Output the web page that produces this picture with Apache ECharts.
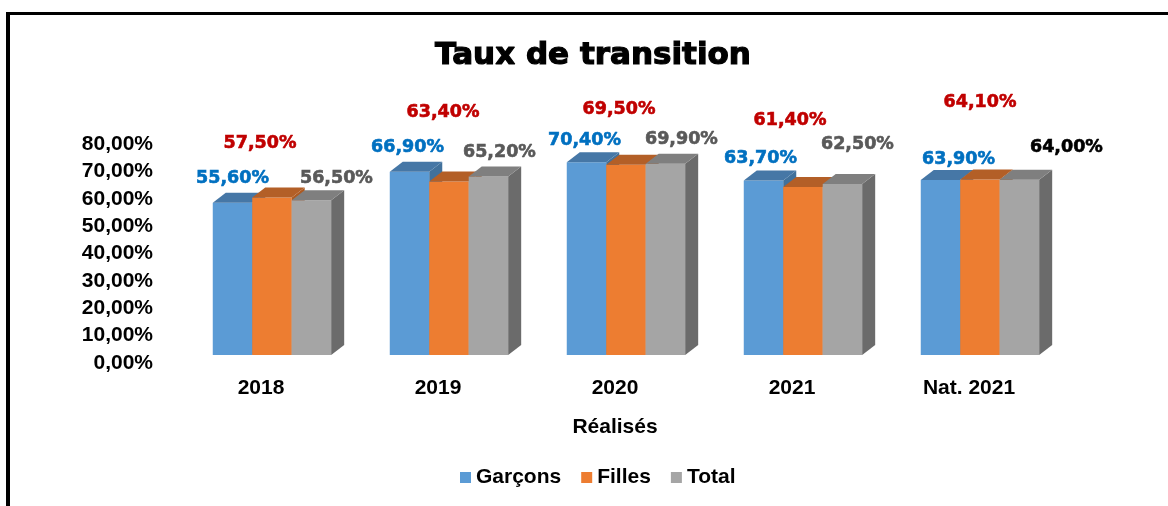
<!DOCTYPE html>
<html>
<head>
<meta charset="utf-8">
<script src="https://cdn.jsdelivr.net/npm/echarts@6/dist/echarts.min.js"></script>
<style>
  html, body { margin: 0; padding: 0; background: #fff; }
  #chart { width: 1168px; height: 506px; }
</style>
</head>
<body>
<div id="chart"></div>
<script>
// données du graphique
const annees = ["2018", "2019", "2020", "2021", "Nat. 2021"];
const garcons = [55.6, 66.9, 70.4, 63.7, 63.9];
const filles = [57.5, 63.4, 69.5, 61.4, 64.1];
const total = [56.5, 65.2, 69.9, 62.5, 64.0];
const axeY = [0, 10, 20, 30, 40, 50, 60, 70, 80];

// couleurs des faces (avant, côté, dessus) et des étiquettes
const faces = [
  { front: "#5b9bd5", side: "#41719c", top: "#4677a6", label: "#0070c0" },
  { front: "#ed7d31", side: "#ae5a21", top: "#b35f27", label: "#c00000" },
  { front: "#a5a5a5", side: "#6b6b6b", top: "#7f7f7f", label: "#595959" }
];
// décalage des étiquettes (placées à la main comme dans Excel)
const decalage = [
  [[0, -24], [-2, -24], [-2, -22], [-3, -22], [18, -21]],
  [[-12, -54], [-6, -69], [-7, -55], [-13, -66], [0, -77]],
  [[25, -22], [11, -24], [16, -24], [15, -39], [47, -32]]
];
const couleurNat = "#000000";
const police = "Liberation Sans";

const chart = echarts.init(document.getElementById("chart"));

function fmt(v) {
  return v.toFixed(2).replace(".", ",") + "%";
}

//dessine une barre en relief : face avant, côté, dessus et étiquette
function barre3d(k) {
  return function (params, api) {
    const cat = api.value(0);
    const val = api.value(1);
    const haut = api.coord([cat, val]);
    const bas = api.coord([cat, 0]);
    const band = api.size([1, 0])[0];
    const w = band * 0.223;
    const cx = haut[0] + band * 0.062 + (k - 1) * w;
    const x0 = cx - w / 2, x1 = cx + w / 2;
    const yT = haut[1], yB = bas[1];
    const dx = 13, dy = 10;
    const c = faces[k];
    const off = decalage[k][params.dataIndex];
    let couleur = c.label;
    if (k === 2 && params.dataIndex === 4) couleur = couleurNat;
    return {
      type: "group",
      children: [
        { type: "rect", shape: { x: x0, y: yT, width: w, height: yB - yT }, style: { fill: c.front } },
        { type: "polygon", shape: { points: [[x1, yB], [x1, yT], [x1 + dx, yT - dy], [x1 + dx, yB - dy]] }, style: { fill: c.side } },
        { type: "polygon", shape: { points: [[x0, yT], [x1, yT], [x1 + dx, yT - dy], [x0 + dx, yT - dy]] }, style: { fill: c.top } },
        {
          type: "text",
          x: cx + off[0],
          y: yT + off[1],
          style: {
            text: fmt(val),
            fill: couleur,
            stroke: couleur,
            lineWidth: 0.6,
            font: "bold 17.5px 'DejaVu Sans'",
            align: "center",
            verticalAlign: "middle"
          }
        }
      ]
    };
  };
}

function serie(nom, valeurs, k) {
  return {
    name: nom,
    type: "custom",
    renderItem: barre3d(k),
    itemStyle: { color: faces[k].front },
    encode: { x: 0, y: 1 },
    data: valeurs.map((v, i) => [i, v])
  };
}

let options = {
  animation: false,
  title: {
    text: "Taux de transition",
    left: 435,
    top: 40,
    padding: 0,
    textStyle: {
      fontFamily: "DejaVu Sans",
      fontWeight: "bold",
      fontSize: 31,
      color: "#000",
      textBorderColor: "#000",
      textBorderWidth: 1.2
    }
  },
  legend: {
    left: 460,
    top: 467,
    padding: 0,
    itemWidth: 11,
    itemHeight: 11,
    itemGap: 20,
    icon: "rect",
    textStyle: { fontFamily: police, fontWeight: "bold", fontSize: 21, color: "#000" },
    data: ["Garçons", "Filles", "Total"]
  },
  grid: { left: 172.5, right: 110.5, top: 136, bottom: 151 },
  xAxis: {
    type: "category",
    data: annees,
    name: "Réalisés",
    nameLocation: "middle",
    nameGap: 62,
    nameTextStyle: { fontFamily: police, fontWeight: "bold", fontSize: 21, color: "#000" },
    axisLine: { show: false },
    axisTick: { show: false },
    axisLabel: { margin: 23, fontFamily: police, fontWeight: "bold", fontSize: 21, color: "#000" }
  },
  yAxis: {
    type: "value",
    min: axeY[0],
    max: axeY[axeY.length - 1],
    interval: axeY[1] - axeY[0],
    splitLine: { show: false },
    axisLine: { show: false },
    axisTick: { show: false },
    axisLabel: {
      margin: 19.5,
      verticalAlign: "top",
      lineHeight: 16,
      fontFamily: police,
      fontWeight: "bold",
      fontSize: 21,
      color: "#000",
      formatter: (v) => fmt(v)
    }
  },
  graphic: [
    { type: "line", shape: { x1: 8, y1: 12, x2: 8, y2: 520 }, style: { stroke: "#000", lineWidth: 4 } },
    { type: "line", shape: { x1: 6, y1: 13.5, x2: 1180, y2: 13.5 }, style: { stroke: "#000", lineWidth: 3 } }
  ],
  series: [
    serie("Garçons", garcons, 0),
    serie("Filles", filles, 1),
    serie("Total", total, 2)
  ]
};
chart.setOption(options);
</script>
</body>
</html>
